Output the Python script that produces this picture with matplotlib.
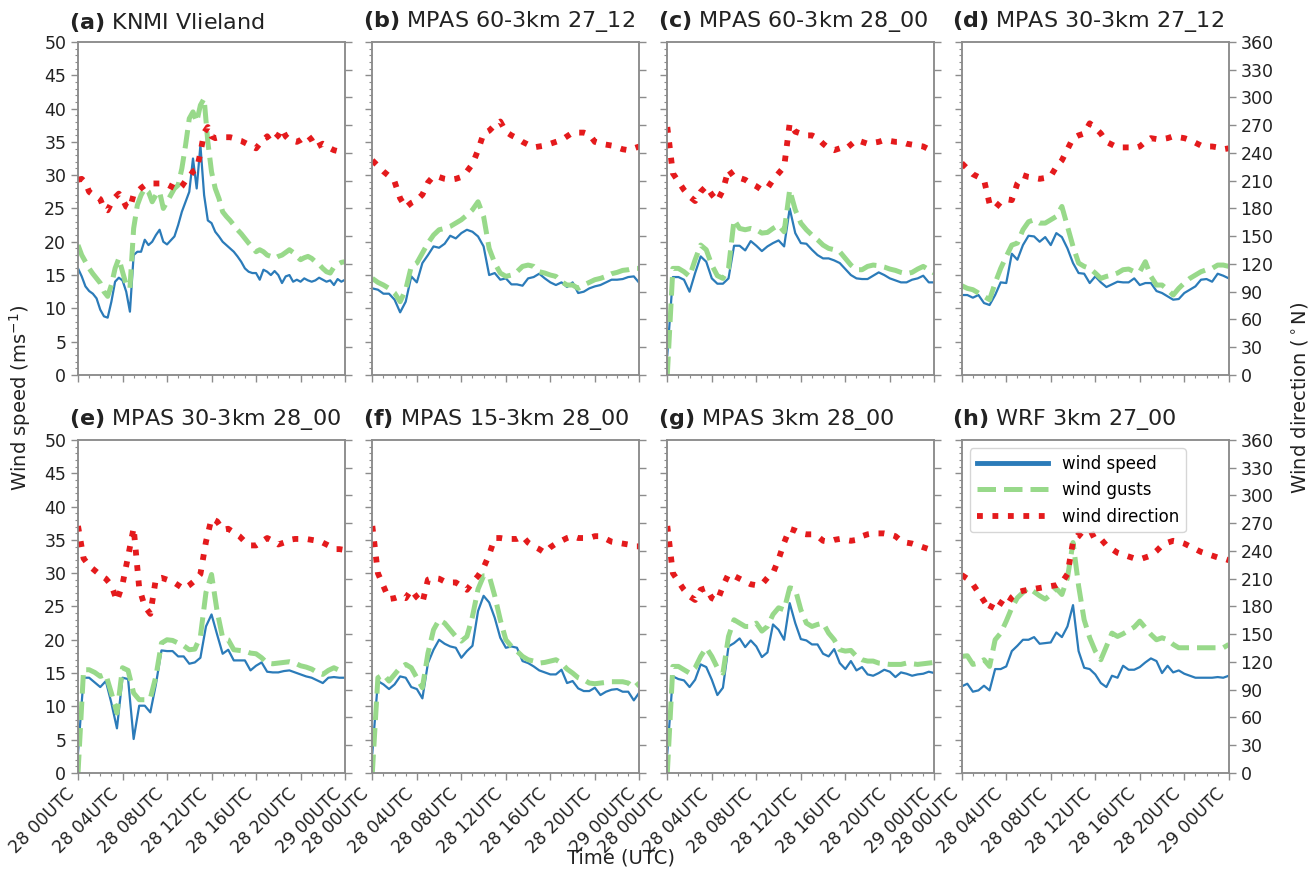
import numpy as np
import matplotlib.pyplot as plt
from matplotlib.ticker import MultipleLocator

plt.rcParams['font.family'] = ['DejaVu Sans']

# time axes (hours after 28 Oct 00UTC)
hours_obs = np.arange(73) / 3.0   # observations, 20 min
hours_mod = np.arange(49) / 2.0   # model output, 30 min

tick_hours = [0, 4, 8, 12, 16, 20, 24]
tick_labels = ['28 00UTC', '28 04UTC', '28 08UTC', '28 12UTC',
               '28 16UTC', '28 20UTC', '29 00UTC']

panel_ids = ['(a)', '(b)', '(c)', '(d)', '(e)', '(f)', '(g)', '(h)']
titles = ['KNMI Vlieland', 'MPAS 60-3km 27_12', 'MPAS 60-3km 28_00',
          'MPAS 30-3km 27_12', 'MPAS 30-3km 28_00', 'MPAS 15-3km 28_00',
          'MPAS 3km 28_00', 'WRF 3km 27_00']

# (a) KNMI Vlieland observations
speed_a = [16.0, 14.8, 13.3, 12.6, 12.2, 11.5, 9.8, 8.8, 8.6, 11.0,
           14.0, 14.6, 14.2, 12.5, 9.5, 18.0, 18.5, 18.5, 20.3, 19.5,
           20.0, 21.0, 21.8, 20.0, 19.6, 20.2, 20.8, 22.5, 24.5, 26.0,
           27.5, 32.5, 28.0, 34.5, 27.0, 23.2, 22.8, 21.5, 20.8, 20.0,
           19.5, 19.0, 18.5, 17.8, 17.0, 16.0, 15.5, 15.3, 15.3, 14.3,
           15.8, 15.5, 15.0, 15.6, 15.0, 13.8, 14.8, 15.0, 14.0, 14.3,
           14.0, 14.5, 14.2, 14.0, 14.2, 14.6, 14.3, 14.0, 14.2, 13.5,
           14.4, 14.0, 14.3]
gust_a = [19.5, 18.0, 17.0, 16.0, 15.2, 14.5, 13.8, 12.5, 11.8, 13.5,
          16.0, 17.5, 15.5, 13.5, 13.0, 22.0, 25.5, 27.0, 28.0, 27.5,
          26.0, 27.0, 27.5, 25.0, 26.0, 27.0, 28.0, 28.5, 31.0, 34.5,
          38.5, 39.5, 38.0, 40.5, 41.5, 35.0, 30.5, 28.0, 26.5, 24.5,
          23.8, 23.2, 22.5, 21.8, 21.2, 20.5, 19.8, 19.2, 18.5, 18.8,
          18.5, 18.0, 17.8, 17.5, 17.8, 18.0, 18.4, 18.8, 18.4, 17.8,
          17.3, 17.6, 17.8, 17.5, 17.0, 16.6, 16.0, 15.5, 15.3, 16.2,
          16.6, 16.9, 17.0]
dir_a = [211, 212, 208, 198, 195, 193, 190, 180, 178, 186,
         192, 196, 190, 182, 180, 195, 198, 202, 205, 206,
         207, 207, 207, 207, 206, 204, 202, 200, 204, 210,
         214, 220, 222, 240, 262, 268, 258, 256, 257, 257,
         257, 257, 256, 254, 253, 251, 249, 247, 245, 250,
         254, 258, 252, 255, 259, 266, 258, 254, 253, 252,
         254, 257, 259, 254, 246, 248, 250, 248, 245, 243,
         242, 241, 241]

# (b) MPAS 60-3km 27_12
speed_b = [13.0, 12.8, 12.2, 12.2, 11.3, 9.4, 11.0, 14.8, 13.9, 16.8,
           18.0, 19.3, 19.1, 19.7, 20.9, 20.5, 21.3, 21.8, 21.5, 20.8,
           19.3, 15.0, 15.3, 14.3, 14.5, 13.6, 13.6, 13.4, 14.5, 14.7,
           15.2, 14.5, 13.9, 13.5, 13.9, 13.2, 13.9, 12.3, 12.5, 13.0,
           13.3, 13.5, 13.9, 14.3, 14.3, 14.4, 14.7, 14.8, 13.8]
gust_b = [14.5, 13.9, 13.5, 13.0, 12.3, 11.0, 12.8, 16.3, 16.8, 18.3,
          19.8, 21.0, 21.8, 22.0, 22.3, 22.8, 23.3, 24.0, 24.8, 26.0,
          23.8, 19.0, 16.8, 15.3, 14.8, 15.0, 15.5, 16.3, 16.5, 16.3,
          15.5, 15.3, 15.0, 14.8, 14.0, 13.5, 13.5, 13.0, 13.5, 13.9,
          14.3, 14.5, 14.8, 15.2, 15.4, 15.7, 15.8, 16.0, 16.0]
dir_b = [232, 226, 220, 215, 209, 191, 181, 186, 189, 195,
         208, 215, 214, 212, 211, 212, 214, 220, 228, 243,
         261, 264, 270, 274, 263, 259, 256, 252, 249, 246,
         247, 248, 250, 252, 254, 258, 262, 262, 262, 260,
         252, 250, 249, 248, 246, 244, 243, 245, 247]

# (c) MPAS 60-3km 28_00
speed_c = [3.0, 14.7, 14.7, 14.3, 12.5, 15.3, 17.8, 17.0, 14.5, 13.7,
           13.7, 14.5, 19.4, 19.4, 18.7, 20.1, 19.4, 18.6, 19.3, 19.8,
           20.2, 19.3, 25.0, 21.3, 19.8, 19.7, 18.8, 18.0, 17.5, 17.5,
           17.2, 16.8, 15.9, 15.0, 14.5, 14.4, 14.4, 14.9, 15.4, 15.0,
           14.5, 14.2, 13.9, 13.9, 14.3, 14.5, 14.9, 13.9, 13.9]
gust_c = [0.0, 16.0, 16.0, 15.5, 14.8, 17.3, 19.5, 18.8, 16.5, 14.9,
          14.5, 16.0, 23.3, 22.0, 21.8, 22.0, 21.8, 21.3, 21.4, 22.0,
          22.5, 21.5, 27.8, 24.8, 22.8, 21.8, 21.0, 20.3, 19.5, 19.0,
          18.8, 18.5, 17.5, 16.5, 15.8, 15.8, 16.3, 16.5, 16.4, 16.2,
          15.9, 15.7, 15.4, 15.2, 15.4, 15.9, 16.3, 15.8, 15.3]
dir_c = [268, 218, 209, 200, 193, 188, 198, 204, 195, 188,
         200, 222, 214, 213, 211, 207, 204, 200, 202, 211,
         218, 225, 272, 263, 261, 259, 259, 256, 250, 245,
         243, 245, 244, 249, 254, 252, 250, 251, 252, 254,
         253, 252, 252, 250, 249, 248, 247, 244, 243]

# (d) MPAS 30-3km 27_12
speed_d = [12.0, 12.0, 11.6, 12.0, 10.8, 10.5, 12.0, 13.9, 13.8, 18.2,
           17.3, 19.5, 20.9, 20.8, 20.0, 20.7, 19.5, 21.3, 20.7, 19.0,
           16.8, 15.3, 15.2, 13.8, 14.8, 13.9, 13.2, 13.6, 14.0, 13.9,
           13.9, 14.5, 13.5, 13.8, 13.8, 12.6, 12.3, 11.8, 11.3, 11.4,
           12.3, 12.8, 13.3, 14.3, 14.4, 14.0, 15.2, 14.9, 14.5]
gust_d = [13.4, 13.0, 12.8, 12.3, 11.8, 11.3, 13.8, 16.0, 17.8, 19.5,
          19.8, 21.8, 23.0, 23.3, 22.8, 22.8, 23.3, 23.8, 25.3, 22.3,
          19.3, 16.8, 16.3, 16.0, 15.3, 14.5, 14.8, 15.0, 15.3, 15.8,
          15.9, 15.5, 15.5, 17.0, 14.8, 13.5, 13.5, 12.8, 12.0, 13.0,
          13.8, 14.5, 15.0, 15.5, 15.8, 16.0, 16.5, 16.5, 16.3]
dir_d = [229, 223, 217, 214, 211, 185, 180, 187, 190, 189,
         207, 216, 214, 213, 212, 213, 215, 225, 232, 244,
         256, 259, 261, 272, 267, 261, 252, 249, 246, 246,
         246, 245, 247, 252, 256, 255, 255, 256, 258, 257,
         256, 254, 251, 248, 247, 247, 246, 244, 245]

# (e) MPAS 30-3km 28_00
speed_e = [3.0, 14.3, 14.3, 13.6, 12.9, 13.8, 10.5, 6.7, 14.3, 14.1,
           5.1, 10.1, 10.1, 9.1, 13.3, 18.4, 18.3, 18.3, 17.5, 17.5,
           16.4, 16.6, 17.3, 22.0, 23.8, 20.8, 17.9, 18.5, 16.9, 16.9,
           16.9, 15.4, 16.1, 16.6, 15.2, 15.1, 15.1, 15.3, 15.4, 15.1,
           14.8, 14.5, 14.3, 13.9, 13.5, 14.3, 14.4, 14.3, 14.3]
gust_e = [0.0, 15.5, 15.5, 15.1, 14.5, 14.8, 12.0, 9.0, 15.8, 15.4,
          12.0, 11.0, 11.0, 11.2, 14.5, 19.5, 20.0, 19.9, 19.5, 19.1,
          18.5, 18.6, 20.5, 27.1, 29.8, 24.3, 20.3, 20.0, 18.5, 18.4,
          18.3, 18.0, 17.9, 17.3, 16.5, 16.4, 16.5, 16.6, 16.7, 16.5,
          16.1, 15.9, 15.6, 15.1, 14.8, 15.4, 15.8, 15.4, 15.0]
dir_e = [267, 232, 224, 219, 214, 210, 203, 186, 204, 234,
         265, 200, 180, 172, 210, 211, 209, 207, 203, 199,
         203, 208, 215, 250, 275, 272, 263, 264, 260, 256,
         250, 246, 246, 250, 254, 251, 247, 249, 252, 253,
         253, 253, 252, 251, 249, 246, 242, 242, 241]

# (f) MPAS 15-3km 28_00
speed_f = [3.0, 13.8, 13.3, 12.6, 13.3, 14.5, 14.3, 12.9, 12.6, 11.2,
           16.5, 18.5, 20.0, 19.4, 19.0, 18.8, 17.3, 18.3, 19.1, 24.3,
           26.6, 25.6, 23.3, 20.3, 18.8, 19.0, 18.8, 16.8, 16.5, 16.0,
           15.4, 15.1, 14.8, 14.8, 15.5, 13.5, 13.8, 12.7, 12.3, 12.3,
           12.8, 11.7, 12.2, 12.5, 12.6, 12.2, 12.2, 10.9, 12.1]
gust_f = [0.0, 14.3, 14.8, 13.8, 14.8, 15.8, 16.3, 15.8, 14.3, 12.8,
          18.0, 21.5, 23.0, 22.5, 21.5, 20.5, 19.8, 20.5, 23.5, 27.6,
          29.6, 29.6, 26.6, 23.0, 20.0, 19.0, 18.3, 17.5, 17.0, 16.8,
          16.5, 16.6, 16.8, 17.0, 16.5, 15.6, 15.0, 14.3, 14.0, 13.5,
          13.4, 13.5, 13.6, 13.7, 13.7, 13.7, 13.5, 12.8, 13.5]
dir_f = [267, 216, 202, 188, 189, 191, 189, 198, 190, 184,
         209, 211, 210, 207, 206, 206, 202, 198, 206, 213,
         222, 236, 254, 254, 253, 253, 253, 256, 249, 245,
         242, 238, 244, 248, 251, 254, 256, 254, 254, 254,
         256, 256, 253, 250, 249, 248, 247, 245, 245]

# (g) MPAS 3km 28_00
speed_g = [3.0, 14.5, 14.1, 13.9, 12.9, 14.0, 16.3, 15.9, 14.0, 11.7,
           12.8, 19.0, 19.5, 20.2, 18.9, 19.9, 19.0, 17.4, 18.1, 22.3,
           21.5, 20.0, 25.5, 22.5, 20.1, 19.9, 19.3, 19.3, 17.9, 17.5,
           18.6, 16.5, 15.6, 16.8, 15.4, 15.9, 14.8, 14.6, 15.0, 15.5,
           15.2, 14.4, 15.1, 14.9, 14.6, 14.8, 14.9, 15.2, 15.0]
gust_g = [0.0, 16.0, 16.0, 15.5, 15.0, 15.8, 17.5, 18.8, 17.5, 15.8,
          15.0, 20.5, 23.0, 22.5, 22.0, 22.0, 22.5, 21.3, 22.0, 23.8,
          24.8, 24.5, 27.8, 27.6, 24.5, 22.5, 22.0, 22.3, 22.5, 21.0,
          20.0, 18.5, 18.3, 18.4, 17.5, 17.0, 16.8, 16.8, 16.5, 16.4,
          16.3, 16.3, 16.3, 16.5, 16.4, 16.3, 16.4, 16.5, 16.6]
dir_g = [267, 216, 207, 198, 191, 187, 198, 200, 189, 186,
         202, 215, 213, 210, 207, 204, 203, 204, 211, 216,
         231, 249, 264, 262, 259, 258, 258, 256, 251, 250,
         252, 253, 252, 251, 252, 256, 258, 259, 259, 259,
         258, 256, 251, 249, 248, 246, 244, 242, 240]

# (h) WRF 3km 27_00
speed_h = [13.0, 13.4, 12.2, 12.4, 13.1, 12.4, 15.6, 15.6, 16.0, 18.3,
           19.1, 20.0, 20.0, 20.4, 19.4, 19.5, 19.6, 21.1, 20.4, 22.0,
           25.2, 18.3, 15.8, 15.6, 14.8, 13.5, 12.9, 14.6, 14.3, 16.1,
           15.5, 15.5, 15.9, 16.6, 17.2, 16.8, 15.0, 16.1, 15.1, 15.4,
           14.9, 14.6, 14.3, 14.3, 14.3, 14.3, 14.4, 14.3, 14.6]
gust_h = [17.5, 17.6, 16.3, 16.5, 17.0, 16.0, 20.0, 21.0, 22.8, 24.8,
          26.3, 27.1, 27.8, 27.2, 26.6, 26.1, 26.8, 27.7, 26.8, 29.3,
          34.6, 28.1, 23.0, 20.3, 18.3, 17.0, 19.0, 21.0, 20.5, 20.9,
          21.4, 21.9, 22.8, 21.8, 20.8, 20.0, 20.3, 20.0, 19.3, 18.8,
          18.8, 18.8, 18.8, 18.8, 18.8, 18.8, 18.8, 18.8, 19.3]
dir_h = [214, 210, 204, 195, 186, 176, 188, 184, 180, 190,
         195, 197, 198, 199, 200, 201, 202, 203, 206, 215,
         250, 258, 253, 256, 259, 253, 246, 242, 238, 236,
         234, 232, 231, 233, 235, 240, 246, 249, 251, 250,
         248, 245, 242, 239, 237, 235, 233, 232, 230]

panels = [
    (hours_obs, speed_a, gust_a, dir_a),
    (hours_mod, speed_b, gust_b, dir_b),
    (hours_mod, speed_c, gust_c, dir_c),
    (hours_mod, speed_d, gust_d, dir_d),
    (hours_mod, speed_e, gust_e, dir_e),
    (hours_mod, speed_f, gust_f, dir_f),
    (hours_mod, speed_g, gust_g, dir_g),
    (hours_mod, speed_h, gust_h, dir_h),
]

BLUE = '#2b7bb9'
GREEN = '#98d98a'
RED = '#e41a1c'
GREY = '#8c8c8c'
TXT = '#222222'

fig = plt.figure(figsize=(13.11, 8.74), dpi=100)

lefts = [0.0595, 0.284, 0.509, 0.7336]
bottoms = [0.571, 0.1156]
width, height = 0.2037, 0.381


def style_axis(a):
    for sp in a.spines.values():
        sp.set_color(GREY)
        sp.set_linewidth(1.1)
    a.tick_params(which='major', direction='out', length=5, width=1,
                  color=GREY, labelsize=12.5, labelcolor=TXT)
    a.tick_params(which='minor', direction='out', length=2.5, width=0.8,
                  color=GREY)


for i, (hours, speed, gust, wdir) in enumerate(panels):
    row, col = divmod(i, 4)
    ax = fig.add_axes([lefts[col], bottoms[row], width, height])
    l1, = ax.plot(hours, speed, color=BLUE, lw=1.6, label='wind speed')
    l2, = ax.plot(hours, gust, color=GREEN, lw=3.6, ls='--',
                  label='wind gusts')
    ax.set_xlim(0, 24)
    ax.set_ylim(0, 50)
    ax.set_xticks(tick_hours)
    if row == 1:
        ax.set_xticklabels(tick_labels, rotation=45, ha='right')
    else:
        ax.set_xticklabels([])
    ax.xaxis.set_minor_locator(MultipleLocator(1))
    ax.yaxis.set_major_locator(MultipleLocator(5))
    ax.yaxis.set_minor_locator(MultipleLocator(1))
    style_axis(ax)
    if col != 0:
        ax.tick_params(labelleft=False)

    ax2 = ax.twinx()
    l3, = ax2.plot(hours, wdir, color=RED, lw=4.2, ls=':',
                   label='wind direction')
    ax2.set_ylim(0, 360)
    ax2.yaxis.set_major_locator(MultipleLocator(30))
    style_axis(ax2)
    if col != 3:
        ax2.tick_params(labelright=False)

    ax.text(-0.035, 1.025, r'$\mathbf{' + panel_ids[i] + '}$ ' + titles[i],
            transform=ax.transAxes, fontsize=16, color=TXT,
            ha='left', va='bottom')

    if i == 7:
        leg = ax2.legend(handles=[l1, l2, l3], loc='upper left',
                         fontsize=12, handlelength=4.3, framealpha=0.8)
        leg.get_lines()[0].set_linewidth(3.5)

fig.text(0.015, 0.545, 'Wind speed (ms$^{-1}$)', rotation=90,
         ha='center', va='center', fontsize=14, color=TXT)
fig.text(0.991, 0.545, r'Wind direction ($^\circ$N)', rotation=90,
         ha='center', va='center', fontsize=14, color=TXT)
fig.text(0.474, 0.018, 'Time (UTC)', ha='center', va='center',
         fontsize=14, color=TXT)

fig.savefig('out.png', dpi=100)
